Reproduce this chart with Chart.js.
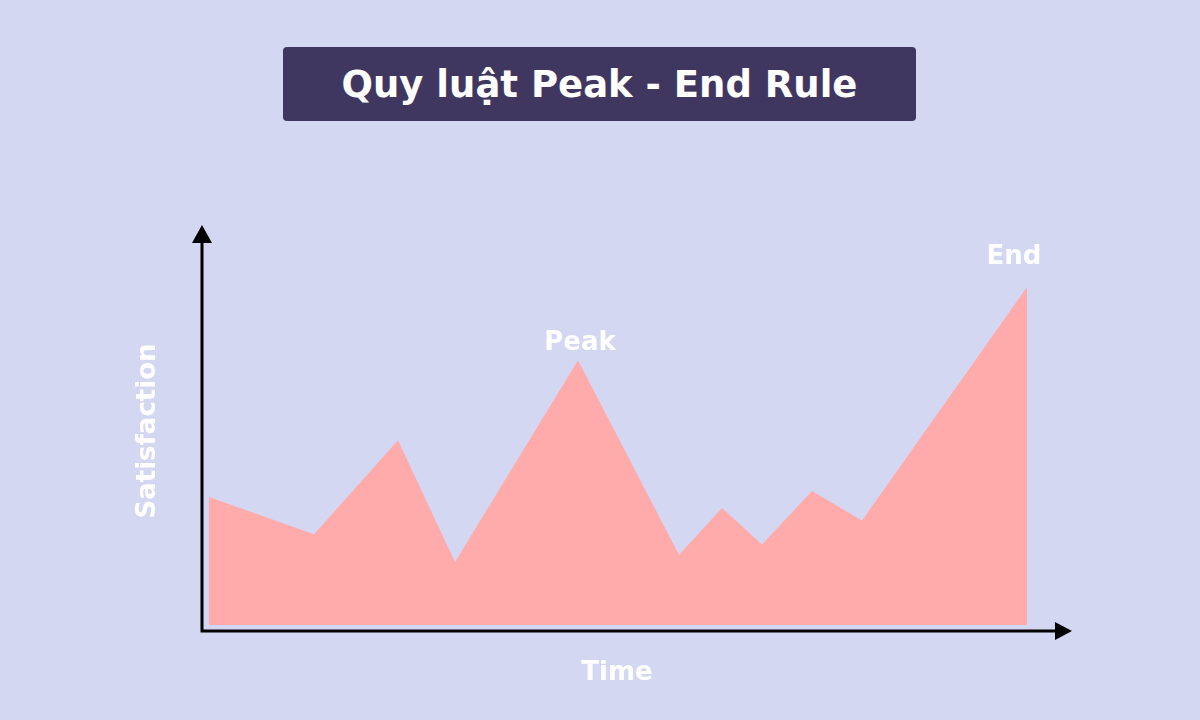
<!DOCTYPE html>
<html>
<head>
<meta charset="utf-8">
<script src="https://cdn.jsdelivr.net/npm/chart.js@4.4.1/dist/chart.umd.min.js"></script>
<style>
    html, body { margin: 0; padding: 0; background: #d4d7f2; }
    #wrap { position: relative; width: 1200px; height: 720px; }
    #titulo {
        position: absolute; left: 283px; top: 47px; width: 633px; height: 74px;
        background: #3f3760; border-radius: 4px; color: #fff;
        font-family: "DejaVu Sans", sans-serif; font-weight: 700; font-size: 37px;
        display: flex; align-items: center; justify-content: center;
    }
    canvas { position: absolute; left: 0; top: 0; }
</style>
</head>
<body>
<div id="wrap">
    <canvas id="grafico" width="1200" height="720"></canvas>
    <div id="titulo">Quy luật Peak - End Rule</div>
</div>
<script>
// time position and satisfaction level of each turning point
const tempos = [0.7, 11.2, 19.6, 25.3, 37.6, 47.7, 52.0, 56.0, 61.0, 66.0, 82.5];
const satisfacao = [33.0, 23.8, 47.0, 17.0, 66.7, 18.8, 30.3, 21.3, 34.5, 27.2, 84.7];
const rotulos = ['', '', '', '', 'Peak', '', '', '', '', '', 'End'];

const fonte = '"DejaVu Sans", sans-serif';

const eixosSeta = {
    id: 'eixosSeta',
    afterDatasetsDraw(chart) {
        const { ctx, chartArea: a } = chart;
        ctx.save();
        ctx.strokeStyle = '#000';
        ctx.fillStyle = '#000';
        ctx.lineWidth = 3;
        ctx.beginPath();
        ctx.moveTo(a.left, a.top + 16);
        ctx.lineTo(a.left, a.bottom);
        ctx.lineTo(a.right - 16, a.bottom);
        ctx.stroke();
        // arrow heads
        ctx.beginPath();
        ctx.moveTo(a.left, a.top);
        ctx.lineTo(a.left - 10, a.top + 18);
        ctx.lineTo(a.left + 10, a.top + 18);
        ctx.closePath();
        ctx.fill();
        ctx.beginPath();
        ctx.moveTo(a.right, a.bottom);
        ctx.lineTo(a.right - 17, a.bottom - 9);
        ctx.lineTo(a.right - 17, a.bottom + 9);
        ctx.closePath();
        ctx.fill();

        ctx.fillStyle = '#fff';
        ctx.font = '700 26px ' + fonte;
        ctx.textAlign = 'center';
        ctx.textBaseline = 'middle';
        ctx.fillText('Time', (a.left + a.right) / 2 - 20, a.bottom + 42);
        ctx.save();
        ctx.translate(a.left - 54, 431);
        ctx.rotate(-Math.PI / 2);
        ctx.fillText('Satisfaction', 0, 0);
        ctx.restore();

        const pontos = chart.getDatasetMeta(0).data;
        ctx.font = '700 26px ' + fonte;
        rotulos.forEach((r, i) => {
            if (!r) return;
            const p = pontos[i];
            const ultimo = i === pontos.length - 1;
            ctx.fillText(r, p.x + (ultimo ? -13 : 2), p.y - (ultimo ? 30 : 17));
        });
        ctx.restore();
    }
};

new Chart(document.getElementById('grafico'), {
    type: 'line',
    data: {
        datasets: [{
            data: tempos.map((t, i) => ({ x: t, y: satisfacao[i] })),
            borderWidth: 0,
            borderColor: 'rgba(0,0,0,0)',
            backgroundColor: '#ffabab',
            pointRadius: 0,
            tension: 0,
            fill: { value: 1.5 }
        }]
    },
    options: {
        responsive: false,
        animation: false,
        layout: { padding: { left: 202, right: 128, top: 225, bottom: 89 } },
        plugins: { legend: { display: false }, tooltip: { enabled: false } },
        scales: {
            x: { type: 'linear', min: 0, max: 87, display: false },
            y: { min: 0, max: 100, display: false }
        }
    },
    plugins: [eixosSeta]
});
</script>
</body>
</html>
